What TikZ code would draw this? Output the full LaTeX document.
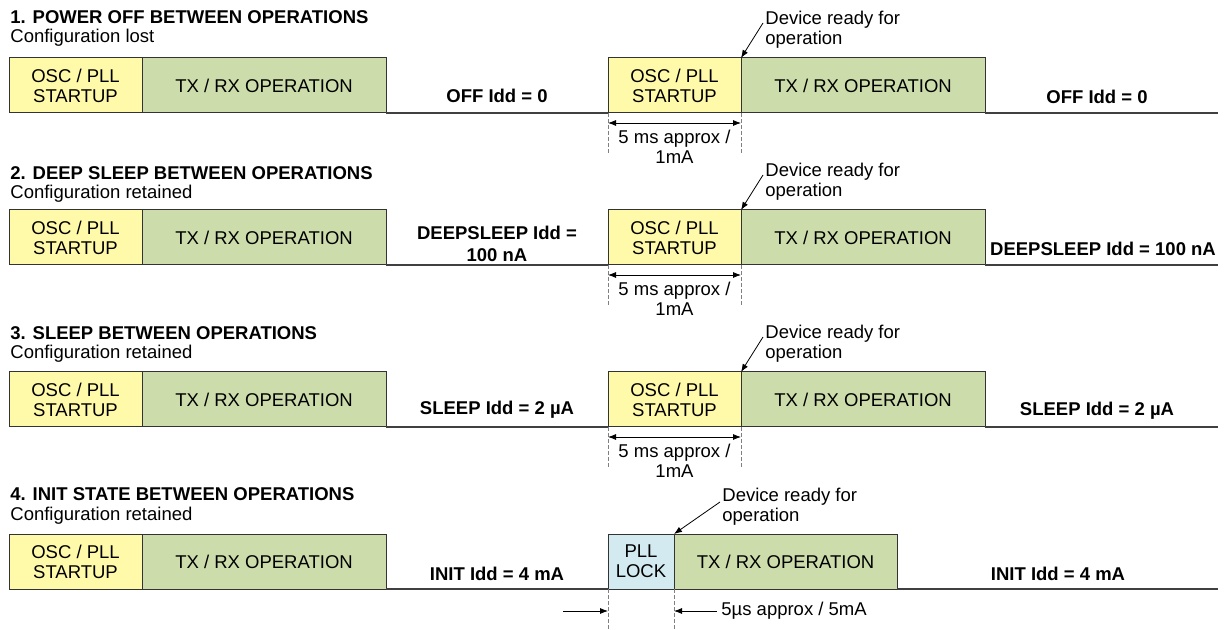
\documentclass[tikz,border=0pt]{standalone}
\usepackage{fontspec}
\setmainfont{Liberation Sans}
\usetikzlibrary{arrows.meta}
\definecolor{oscyellow}{RGB}{255,250,170}
\definecolor{txgreen}{RGB}{204,220,170}
\definecolor{lockblue}{RGB}{210,234,240}
\begin{document}
\begin{tikzpicture}[x=0.5pt, y=-0.5pt,
   every node/.style={font=\fontsize{9.25}{10}\selectfont, inner sep=0pt},
   stage/.style={draw=black!80, line width=0.5pt, outer sep=0pt, minimum height=27.5pt,
                 align=center, anchor=south west},
   osc/.style={stage, fill=oscyellow, minimum width=66.5pt},
   txrx/.style={stage, fill=txgreen, minimum width=122pt},
   lock/.style={stage, fill=lockblue, minimum width=33pt},
   heading/.style={anchor=base west, font=\fontsize{9.25}{10}\selectfont\bfseries},
   note/.style={anchor=base west},
   idd/.style={font=\fontsize{9.25}{11}\selectfont\bfseries, align=center},
   level/.style={draw=black!75, line width=0.75pt},
   guide/.style={draw=black!50, dash pattern=on 2pt off 1pt, line width=0.4pt},
   span/.style={line width=0.4pt, {Latex[length=4pt,width=3pt]}-{Latex[length=4pt,width=3pt]}},
   pointer/.style={line width=0.4pt, -{Latex[length=4pt,width=3pt]}}]

\useasboundingbox (0,0) rectangle (1226,630);

% rows 1 to 3: startup from scratch after each pause
\foreach \r/\ty/\by/\title/\sub/\yl/\iddl/\iddr/\xr in {
   1/0/0/{1. POWER OFF BETWEEN OPERATIONS}/{Configuration lost}/96/{OFF Idd = 0}/{OFF Idd = 0}/1097,
   2/156/152/{2. DEEP SLEEP BETWEEN OPERATIONS}/{Configuration retained}/92/{DEEPSLEEP Idd =\\100 nA}/{DEEPSLEEP Idd = 100 nA}/1103,
   3/316/314/{3. SLEEP BETWEEN OPERATIONS}/{Configuration retained}/96/{SLEEP Idd = 2 µA}/{SLEEP Idd = 2 µA}/1097}
{
   \node[heading] (title\r) at (10,24+\ty) {\title};
   \node[note] (sub\r) at (10,43+\ty) {\sub};

   \node[osc] (oscA\r) at (9,113+\by) {OSC / PLL\\STARTUP};
   \node[txrx, anchor=west] (txA\r) at (oscA\r.east) {TX / RX OPERATION};
   \node[osc] (oscB\r) at (608,113+\by) {OSC / PLL\\STARTUP};
   \node[txrx, anchor=west] (txB\r) at (oscB\r.east) {TX / RX OPERATION};
   \coordinate (end\r) at (1218,113+\by);
   \draw[level] (txA\r.south east) -- (oscB\r.south west);
   \draw[level] (txB\r.south east) -- (end\r);

   \node[idd] (iddL\r) at (497,\yl+\by) {\iddl};
   \node[idd] (iddR\r) at (\xr,97+\by) {\iddr};

   % startup time
   \coordinate (dimL\r) at ([yshift=-20pt]oscB\r.south west);
   \coordinate (dimR\r) at ([yshift=-20pt]oscB\r.south east);
   \draw[guide] (oscB\r.south west) -- (dimL\r);
   \draw[guide] (oscB\r.south east) -- (dimR\r);
   \draw[span] ([yshift=-5pt]oscB\r.south west) -- ([yshift=-5pt]oscB\r.south east);
   \node[align=center, anchor=north] (dur\r) at ([yshift=-8.5pt]oscB\r.south) {5 ms approx /\\1mA};

   \node[align=left, anchor=north west] (ready\r) at (765,11+\by) {Device ready for\\operation};
   \draw[pointer] ([xshift=-1pt,yshift=-6pt]ready\r.north west) -- (oscB\r.north east);
}

% row 4: only the PLL has to lock again
\node[heading] (title4) at (10,501) {4. INIT STATE BETWEEN OPERATIONS};
\node[note] (sub4) at (10,520) {Configuration retained};

\node[osc] (oscA4) at (9,589) {OSC / PLL\\STARTUP};
\node[txrx, anchor=west] (txA4) at (oscA4.east) {TX / RX OPERATION};
\node[lock] (lock4) at (608,589) {PLL\\LOCK};
\node[txrx, anchor=west, minimum width=111.5pt] (txB4) at (lock4.east) {TX / RX OPERATION};
\coordinate (end4) at (1218,589);
\draw[level] (txA4.south east) -- (lock4.south west);
\draw[level] (txB4.south east) -- (end4);

\node[idd] (iddL4) at (497,574) {INIT Idd = 4 mA};
\node[idd] (iddR4) at (1058,574) {INIT Idd = 4 mA};

\coordinate (dimL4) at (608,630);
\coordinate (dimR4) at (674,630);
\draw[guide] (lock4.south west) -- (dimL4);
\draw[guide] (lock4.south east) -- (dimR4);
\coordinate (inL4) at (563,611);
\coordinate (inR4) at (717,611);
\draw[pointer] (inL4) -- (inL4 -| lock4.west);
\draw[pointer] (inR4) -- (inR4 -| lock4.east);
\node[anchor=west] (dur4) at (721,611) {5µs approx / 5mA};

\node[align=left, anchor=north west] (ready4) at (722,488) {Device ready for\\operation};
\draw[pointer] ([xshift=-1pt,yshift=-7pt]ready4.north west) -- (lock4.north east);

\end{tikzpicture}
\end{document}
